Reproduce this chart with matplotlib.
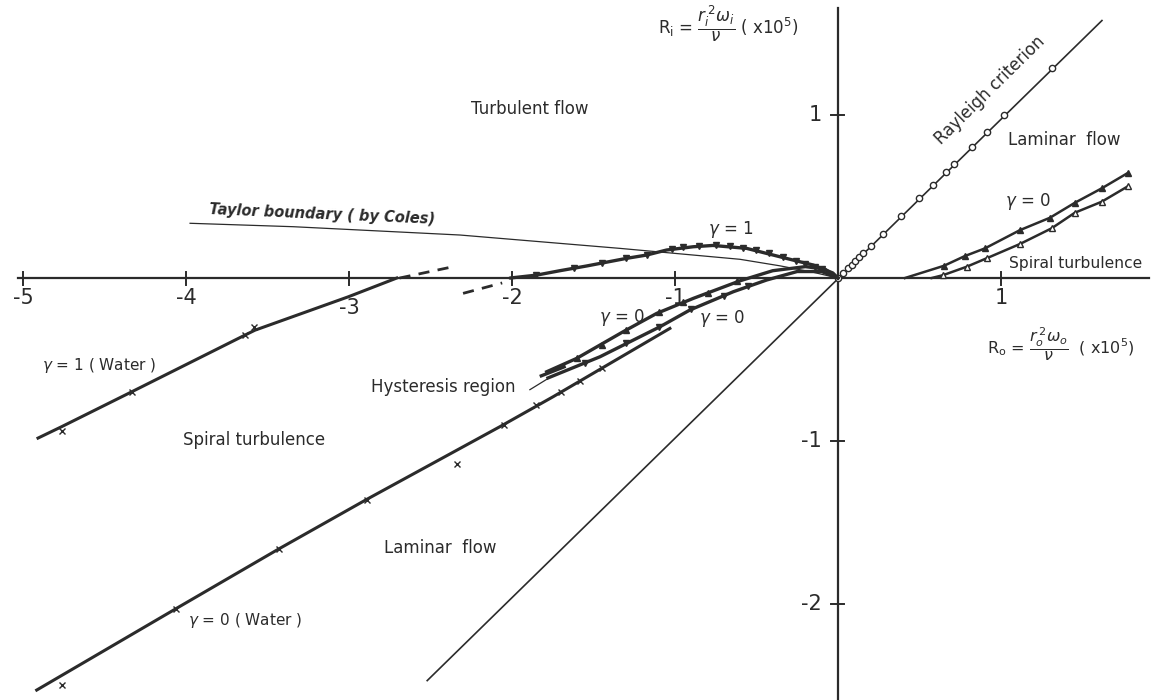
import matplotlib
matplotlib.use("Agg")
import matplotlib.pyplot as plt

plt.rcParams['font.family'] = ['DejaVu Sans']
plt.rcParams['mathtext.fontset'] = 'dejavusans'

INK = '#2b2b2b'

# ---------------- data ----------------
xtick_vals = [-5, -4, -3, -2, -1, 1]
xtick_labels = ['-5', '-4', '-3', '-2', '-1', '1']
ytick_vals = [1, -1, -2]
ytick_labels = ['1', '-1', '-2']

# Rayleigh criterion (thin straight line through origin)
rayleigh_x = [-2.52, 1.62]
rayleigh_y = [-2.47, 1.58]
rayleigh_pts_x = [0.0, 0.032, 0.063, 0.084, 0.104, 0.131, 0.156, 0.201, 0.278, 0.387,
                  0.499, 0.581, 0.663, 0.712, 0.820, 0.912, 1.018, 1.315]
rayleigh_pts_y = [0.0, 0.031, 0.062, 0.082, 0.102, 0.128, 0.153, 0.197, 0.272, 0.379,
                  0.489, 0.569, 0.650, 0.698, 0.804, 0.894, 0.998, 1.289]

# Taylor boundary (by Coles)
taylor_x = [-3.975, -3.342, -2.319, -1.337, -0.601, -0.356, -0.15, 0.0]
taylor_y = [0.336, 0.315, 0.264, 0.182, 0.115, 0.075, 0.035, 0.0]

# gamma = 1 arch
g1_x = [-2.012, -1.849, -1.706, -1.542, -1.296, -1.174, -1.051, -0.888, -0.767,
        -0.560, -0.397, -0.274, -0.152, -0.031, 0.0]
g1_y = [0.0, 0.018, 0.045, 0.074, 0.121, 0.141, 0.172, 0.192, 0.200,
        0.182, 0.141, 0.110, 0.080, 0.031, 0.0]
g1_dash_x = [-2.30, -2.06]
g1_dash_y = [-0.094, -0.030]
g1_mark_x = [-1.85, -1.62, -1.45, -1.30, -1.17, -1.02, -0.95, -0.85, -0.75, -0.66,
             -0.58, -0.50, -0.42, -0.34, -0.26, -0.20, -0.14, -0.10]
g1_mark_y = [0.018, 0.060, 0.090, 0.121, 0.141, 0.180, 0.190, 0.196, 0.200, 0.196,
             0.185, 0.175, 0.155, 0.130, 0.105, 0.088, 0.070, 0.055]

# gamma = 1 (Water)
w1_x = [-4.908, -4.763, -4.333, -3.638, -3.577, -3.004, -2.707]
w1_y = [-0.982, -0.912, -0.698, -0.350, -0.320, -0.115, 0.0]
w1_dash_x = [-2.69, -2.34]
w1_dash_y = [0.0, 0.074]
w1_mark_x = [-4.76, -4.33, -3.64, -3.58]
w1_mark_y = [-0.94, -0.70, -0.35, -0.30]

# gamma = 0 (Water)
w0_x = [-4.916, -4.057, -3.434, -2.891, -2.074, -1.747, -1.031]
w0_y = [-2.528, -2.026, -1.664, -1.358, -0.912, -0.728, -0.309]
w0_mark_x = [-4.76, -4.06, -3.43, -2.89, -2.34, -2.05, -1.85, -1.70, -1.58, -1.45]
w0_mark_y = [-2.50, -2.03, -1.66, -1.36, -1.14, -0.90, -0.78, -0.70, -0.63, -0.55]

# gamma = 0 lines (negative Ro side)
g0a_x = [-1.787, -1.603, -1.317, -1.112, -0.888, -0.601, -0.40, -0.20, -0.08, 0.0]
g0a_y = [-0.575, -0.493, -0.329, -0.217, -0.125, -0.017, 0.045, 0.070, 0.055, 0.0]
g0b_x = [-1.779, -1.460, -1.092, -0.908, -0.642, -0.437, -0.25, -0.10, 0.0]
g0b_y = [-0.613, -0.483, -0.299, -0.196, -0.084, -0.012, 0.040, 0.040, 0.0]
g0a_mark_x = [-1.60, -1.45, -1.30, -1.10, -0.95, -0.80, -0.62]
g0a_mark_y = [-0.49, -0.41, -0.32, -0.21, -0.15, -0.09, -0.02]
g0b_mark_x = [-1.55, -1.30, -1.10, -0.90, -0.70, -0.55]
g0b_mark_y = [-0.52, -0.40, -0.30, -0.19, -0.11, -0.05]
hyst_x = [-1.82, -1.68]
hyst_y = [-0.600, -0.545]

# gamma = 0 lines (positive Ro side)
r0a_x = [0.411, 0.650, 0.779, 0.902, 1.117, 1.301, 1.454, 1.618, 1.781]
r0a_y = [0.0, 0.075, 0.135, 0.182, 0.294, 0.370, 0.462, 0.550, 0.646]
r0b_x = [0.575, 0.646, 0.789, 0.912, 1.117, 1.311, 1.454, 1.618, 1.781]
r0b_y = [0.0, 0.018, 0.069, 0.121, 0.209, 0.305, 0.401, 0.468, 0.564]

# ---------------- figure ----------------
fig = plt.figure(figsize=(11.53, 7.0), dpi=100)
ax = fig.add_axes([0, 0, 1, 1])
ax.set_xlim(-5.141, 1.933)
ax.set_ylim(-2.589, 1.706)
ax.set_aspect('equal')
ax.axis('off')

# axes
ax.plot([-5.03, 1.91], [0, 0], color=INK, lw=1.6)
ax.plot([0, 0], [-2.6, 1.656], color=INK, lw=1.6)
tl = 0.04
for t in xtick_vals:
    ax.plot([t, t], [-tl, tl], color=INK, lw=1.4)
for t in ytick_vals:
    ax.plot([-tl, tl], [t, t], color=INK, lw=1.4)
xoff = {-3: -0.06}
for t, lab in zip(xtick_vals, xtick_labels):
    ax.text(t, -0.125 + xoff.get(t, 0.0), lab, ha='center', va='center',
            fontsize=15, color=INK)
for t, lab in zip(ytick_vals, ytick_labels):
    ax.text(-0.10, t, lab, ha='right', va='center', fontsize=15, color=INK)

# curves
ax.plot(rayleigh_x, rayleigh_y, color=INK, lw=1.2)
ax.plot(rayleigh_pts_x, rayleigh_pts_y, 'o', ms=4.5, mfc='white', mec=INK, mew=1.0)

ax.plot(taylor_x, taylor_y, color=INK, lw=0.9)

ax.plot(g1_x, g1_y, color=INK, lw=2.4, solid_capstyle='round')
ax.plot(g1_dash_x, g1_dash_y, color=INK, lw=2.0, ls=(0, (4, 3)))
ax.plot(g1_mark_x, g1_mark_y, 'v', ms=4, color=INK)

ax.plot(w1_x, w1_y, color=INK, lw=2.2)
ax.plot(w1_dash_x, w1_dash_y, color=INK, lw=2.0, ls=(0, (4, 3)))
ax.plot(w1_mark_x, w1_mark_y, 'x', ms=4, color=INK, mew=1.0)

ax.plot(w0_x, w0_y, color=INK, lw=2.2)
ax.plot(w0_mark_x, w0_mark_y, 'x', ms=4, color=INK, mew=1.0)

ax.plot(g0a_x, g0a_y, color=INK, lw=2.4)
ax.plot(g0b_x, g0b_y, color=INK, lw=2.4)
ax.plot(hyst_x, hyst_y, color=INK, lw=2.4)
ax.plot(g0a_mark_x, g0a_mark_y, '^', ms=4, color=INK)
ax.plot(g0b_mark_x, g0b_mark_y, 'v', ms=4, color=INK)

ax.plot(r0a_x, r0a_y, color=INK, lw=1.8)
ax.plot(r0a_x[1:], r0a_y[1:], '^', ms=4.5, color=INK)
ax.plot(r0b_x, r0b_y, color=INK, lw=1.8)
ax.plot(r0b_x[1:], r0b_y[1:], '^', ms=4.5, mfc='white', mec=INK, mew=1.0)

# hysteresis pointer
ax.plot([-1.89, -1.76], [-0.685, -0.605], color=INK, lw=0.9)

# ---------------- texts ----------------
tkw = dict(color=INK, fontsize=12)
ax.text(-1.89, 1.04, 'Turbulent flow', ha='center', va='center', **tkw)
ax.text(-3.86, 0.39, 'Taylor boundary ( by Coles)', ha='left', va='center',
        rotation=-2.5, fontstyle='italic', fontweight='bold', color=INK, fontsize=10.5)
ax.text(-0.66, 0.30, r'$\gamma$ = 1', ha='center', va='center', **tkw)
ax.text(0.93, 1.15, 'Rayleigh criterion', ha='center', va='center', rotation=44.5, **tkw)
ax.text(1.39, 0.85, 'Laminar  flow', ha='center', va='center', **tkw)
ax.text(1.165, 0.47, r'$\gamma$ = 0', ha='center', va='center', **tkw)
ax.text(1.46, 0.092, 'Spiral turbulence', ha='center', va='center', color=INK, fontsize=11.2)
ax.text(-0.67, 1.56, r'R$_\mathrm{i}$ = $\dfrac{r_i^{\,2}\omega_i}{\nu}$ ( x10$^5$)',
        ha='center', va='center', color=INK, fontsize=12)
ax.text(1.37, -0.41, r'R$_\mathrm{o}$ = $\dfrac{r_o^{\,2}\omega_o}{\nu}$  ( x10$^5$)',
        ha='center', va='center', color=INK, fontsize=11.5)
ax.text(-4.53, -0.535, r'$\gamma$ = 1 ( Water )', ha='center', va='center', color=INK, fontsize=11)
ax.text(-3.58, -0.995, 'Spiral turbulence', ha='center', va='center', **tkw)
ax.text(-2.42, -0.67, 'Hysteresis region', ha='center', va='center', **tkw)
ax.text(-2.44, -1.655, 'Laminar  flow', ha='center', va='center', **tkw)
ax.text(-3.64, -2.10, r'$\gamma$ = 0 ( Water )', ha='center', va='center', color=INK, fontsize=11)
ax.text(-1.325, -0.24, r'$\gamma$ = 0', ha='center', va='center', **tkw)
ax.text(-0.71, -0.25, r'$\gamma$ = 0', ha='center', va='center', **tkw)

fig.savefig('out.png', dpi=100)
